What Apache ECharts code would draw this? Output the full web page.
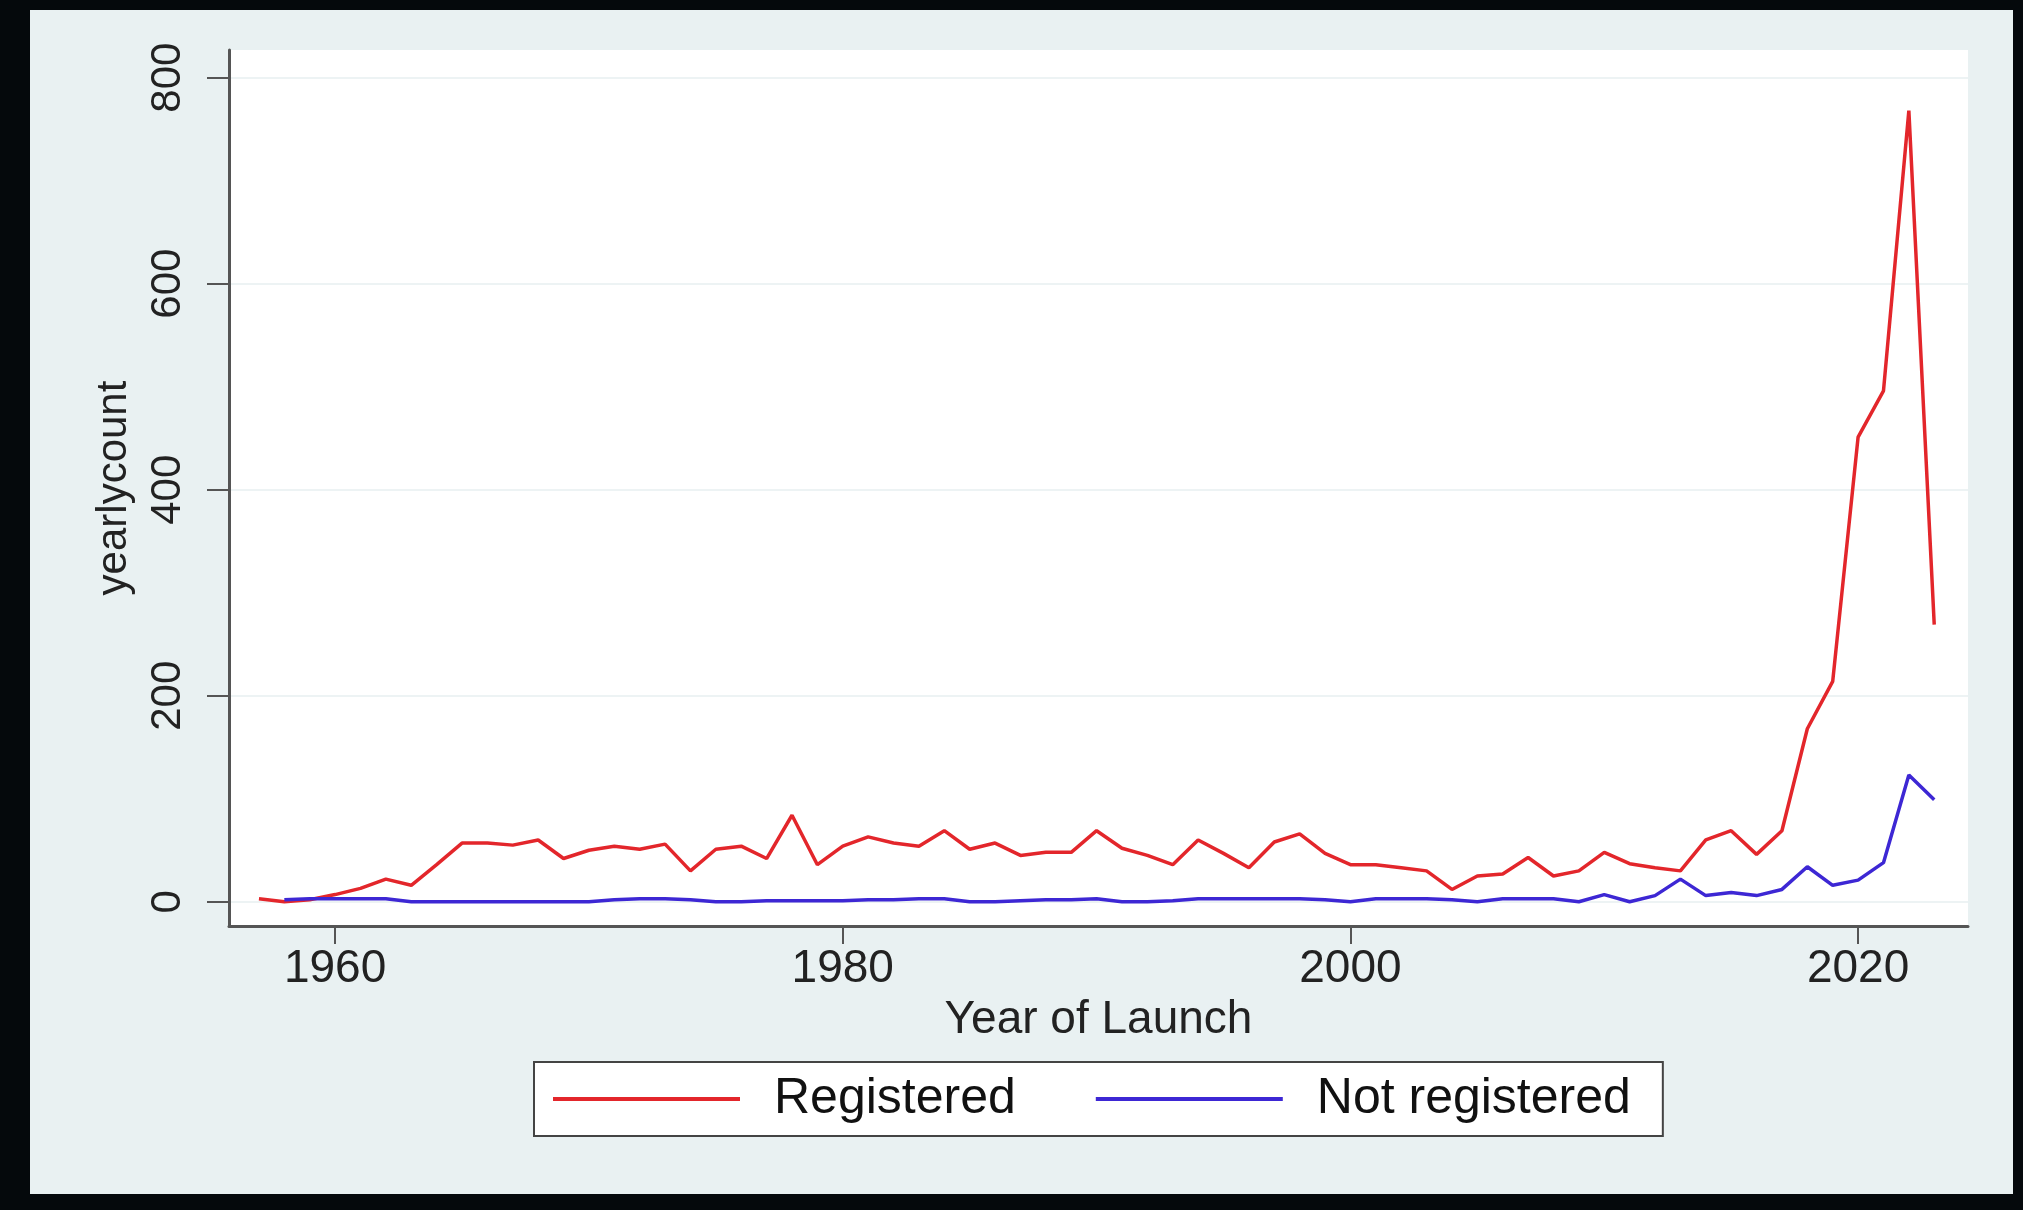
<!DOCTYPE html>
<html>
<head>
<meta charset="utf-8">
<title>yearlycount</title>
<script src="https://cdn.jsdelivr.net/npm/echarts@6/dist/echarts.min.js"></script>
<style>
  html, body { margin: 0; padding: 0; background: #05090c; }
  #chart { width: 2023px; height: 1210px; }
</style>
</head>
<body>
<div id="chart"></div>
<script>
// years of launch
var years = [
  1957, 1958, 1959, 1960, 1961, 1962, 1963, 1964, 1965, 1966,
  1967, 1968, 1969, 1970, 1971, 1972, 1973, 1974, 1975, 1976,
  1977, 1978, 1979, 1980, 1981, 1982, 1983, 1984, 1985, 1986,
  1987, 1988, 1989, 1990, 1991, 1992, 1993, 1994, 1995, 1996,
  1997, 1998, 1999, 2000, 2001, 2002, 2003, 2004, 2005, 2006,
  2007, 2008, 2009, 2010, 2011, 2012, 2013, 2014, 2015, 2016,
  2017, 2018, 2019, 2020, 2021, 2022, 2023
];
// registered objects per year
var registered = [
  3, 0, 2, 7, 13, 22, 16, 36, 57, 57,
  55, 60, 42, 50, 54, 51, 56, 30, 51, 54,
  42, 84, 36, 54, 63, 57, 54, 69, 51, 57,
  45, 48, 48, 69, 52, 45, 36, 60, 47, 33,
  58, 66, 47, 36, 36, 33, 30, 12, 25, 27,
  43, 25, 30, 48, 37, 33, 30, 60, 69, 46,
  69, 168, 214, 451, 496, 768, 269
];
// not registered (no value for 1957)
var notRegistered = [
  null, 2, 3, 3, 3, 3, 0, 0, 0, 0,
  0, 0, 0, 0, 2, 3, 3, 2, 0, 0,
  1, 1, 1, 1, 2, 2, 3, 3, 0, 0,
  1, 2, 2, 3, 0, 0, 1, 3, 3, 3,
  3, 3, 2, 0, 3, 3, 3, 2, 0, 3,
  3, 3, 0, 7, 0, 6, 22, 6, 9, 6,
  12, 34, 16, 21, 38, 123, 99
];
var xTicks = [1960, 1980, 2000, 2020];
var yTicks = [0, 200, 400, 600, 800];

var font = "'Liberation Sans', Arial, sans-serif";

function pairs(vals) {
  var out = [];
  for (var i = 0; i < years.length; i++) {
    if (vals[i] !== null) out.push([years[i], vals[i]]);
  }
  return out;
}

var myChart = echarts.init(document.getElementById("chart"));
myChart.setOption({
  backgroundColor: "#05090c",
  animation: false,
  graphic: [
    {
      type: "rect",
      z: -10,
      shape: { x: 30, y: 10, width: 1983, height: 1184 },
      style: { fill: "#e9f1f2" }
    }
  ],
  grid: {
    left: 229,
    right: 55,
    top: 50,
    bottom: 284,
    show: true,
    backgroundColor: "#ffffff",
    borderWidth: 0
  },
  legend: {
    left: 534,
    top: 1062,
    icon: "rect",
    itemWidth: 187,
    itemHeight: 4,
    itemGap: 80,
    padding: [12, 32, 12, 19],
    backgroundColor: "#ffffff",
    borderColor: "#444444",
    borderWidth: 2,
    textStyle: {
      fontFamily: font,
      fontSize: 50,
      color: "#111111",
      padding: [0, 0, 0, 29]
    },
    data: ["Registered", "Not registered"]
  },
  xAxis: {
    type: "value",
    min: 1955.82,
    max: 2024.33,
    name: "Year of Launch",
    nameLocation: "middle",
    nameGap: 66,
    nameTextStyle: { fontFamily: font, fontSize: 46, color: "#222222" },
    axisLine: { show: true, onZero: false, lineStyle: { color: "#555555", width: 3 } },
    axisTick: { show: true, customValues: xTicks, length: 18, lineStyle: { color: "#555555", width: 2 } },
    axisLabel: {
      customValues: xTicks,
      formatter: function (v) { return String(v); },
      fontFamily: font,
      fontSize: 46,
      color: "#222222",
      margin: 20
    },
    splitLine: { show: false }
  },
  yAxis: {
    type: "value",
    min: -23.5,
    max: 826.8,
    name: "yearlycount",
    nameLocation: "middle",
    nameRotate: 90,
    nameGap: 94,
    nameTextStyle: { fontFamily: font, fontSize: 42, color: "#222222" },
    axisLine: { show: true, lineStyle: { color: "#555555", width: 3 } },
    axisTick: { show: true, customValues: yTicks, length: 22, lineStyle: { color: "#555555", width: 2 } },
    axisLabel: {
      customValues: yTicks,
      rotate: 90,
      fontFamily: font,
      fontSize: 42,
      color: "#222222",
      margin: 40
    },
    splitLine: { show: true, lineStyle: { color: "#edf3f4", width: 2 } }
  },
  series: [
    {
      name: "Registered",
      type: "line",
      data: pairs(registered),
      symbol: "none",
      color: "#e3262b",
      lineStyle: { color: "#e3262b", width: 3.5 }
    },
    {
      name: "Not registered",
      type: "line",
      data: pairs(notRegistered),
      symbol: "none",
      color: "#3d27d4",
      lineStyle: { color: "#3d27d4", width: 3.5 }
    }
  ]
});
</script>
</body>
</html>
